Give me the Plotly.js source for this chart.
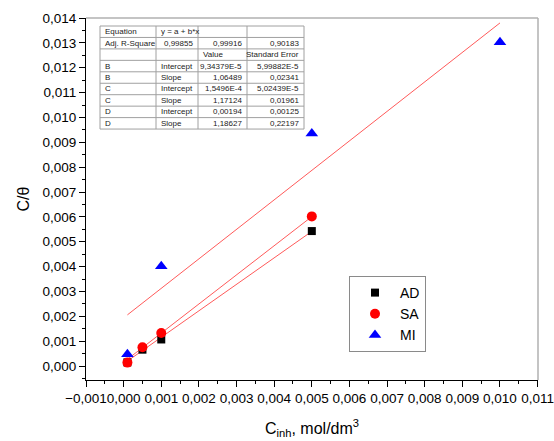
<!DOCTYPE html>
<html>
<head>
<meta charset="utf-8">
<script src="https://cdn.plot.ly/plotly-3.0.1.min.js"></script>
<style>html,body{margin:0;padding:0;background:#fff;}#chart{width:554px;height:441px;}</style>
</head>
<body>
<div id="chart"></div>
<script>
// Data
const xAD = [0.0001, 0.0005, 0.001, 0.005];
const yAD = [0.00015, 0.00066, 0.00107, 0.00543];
const xSA = [0.0001, 0.0005, 0.001, 0.005];
const ySA = [0.00014, 0.00076, 0.00133, 0.00602];
const xMI = [0.0001, 0.001, 0.005, 0.01];
const yMI = [0.00048, 0.00402, 0.00935, 0.01302];

// Linear fit table (as printed)
const fitNames = ['B', 'C', 'D'];
const fitIntercept = [9.34379e-5, 1.5496e-4, 0.00194];
const fitSlope = [1.06489, 1.17124, 1.18627];
const fitXRange = [[0.0001, 0.005], [0.0001, 0.005], [0.0001, 0.01]];

const tableCol1 = ['Equation', 'Adj. R-Square', '', 'B', 'B', 'C', 'C', 'D', 'D'];
const tableCol2 = ['y = a + b*x', '0,99855', '', 'Intercept', 'Slope', 'Intercept', 'Slope', 'Intercept', 'Slope'];
const tableCol3 = ['', '0,99916', 'Value', '9,34379E-5', '1,06489', '1,5496E-4', '1,17124', '0,00194', '1,18627'];
const tableCol4 = ['', '0,90183', 'Standard Error', '5,99882E-5', '0,02341', '5,02439E-5', '0,01961', '0,00125', '0,22197'];

const xTitle = 'C<sub>inh</sub>, mol/dm<sup>3</sup>';
const yTitle = 'C/θ';

// ---- layout geometry (pixels) ----
const W = 554, H = 441;
const M = {l: 86, r: 16, t: 18, b: 61};
const PW = W - M.l - M.r, PH = H - M.t - M.b;
const px2x = p => (p - M.l) / PW;
const py2y = p => (H - M.b - p) / PH;
const tblEdges = [100, 156, 198, 247, 304];
const tblTop = 26, tblRowH = 11.45;

const traces = [];
fitNames.forEach((n, i) => {
  const xs = fitXRange[i];
  traces.push({
    type: 'scatter', mode: 'lines', x: xs,
    y: xs.map(v => fitIntercept[i] + fitSlope[i] * v),
    line: {color: '#ff5a5a', width: 1}, showlegend: false, hoverinfo: 'skip'
  });
});
traces.push({type: 'scatter', mode: 'markers', name: 'AD', x: xAD, y: yAD, legendgroup: 'a', legendrank: 1,
  marker: {symbol: 'square', size: 8, color: '#000000'}});
traces.push({type: 'scatter', mode: 'markers', name: 'MI', x: xMI, y: yMI, legendgroup: 'c', legendrank: 3,
  marker: {symbol: 'triangle-up', size: 11, color: '#0000ff'}});
traces.push({type: 'scatter', mode: 'markers', name: 'SA', x: xSA, y: ySA, legendgroup: 'b', legendrank: 2,
  marker: {symbol: 'circle', size: 10, color: '#ff0000'}});

// ---- table as shapes + annotations ----
const cols = [tableCol1, tableCol2, tableCol3, tableCol4];
const nRows = tableCol1.length;
const tblBottom = tblTop + nRows * tblRowH;
const gridColor = '#a0a0a0';
const shapes = [
  {type: 'line', xref: 'paper', yref: 'paper', x0: 0, x1: 1, y0: 1, y1: 1, line: {color: '#b0b0b0', width: 1.5}},
  {type: 'line', xref: 'paper', yref: 'paper', x0: 1, x1: 1, y0: 0, y1: 1, line: {color: '#b0b0b0', width: 1.5}},
  {type: 'rect', xref: 'paper', yref: 'paper', x0: px2x(tblEdges[0]), x1: px2x(tblEdges[4]),
    y0: py2y(tblBottom), y1: py2y(tblTop), line: {color: gridColor, width: 1}, fillcolor: '#ffffff', layer: 'below'}
];
for (let r = 1; r < nRows; r++) {
  const yy = py2y(tblTop + r * tblRowH);
  shapes.push({type: 'line', xref: 'paper', yref: 'paper', x0: px2x(tblEdges[0]), x1: px2x(tblEdges[4]),
    y0: yy, y1: yy, line: {color: gridColor, width: 1}});
}
for (let c = 1; c < 4; c++) {
  const xx = px2x(tblEdges[c]);
  shapes.push({type: 'line', xref: 'paper', yref: 'paper', x0: xx, x1: xx,
    y0: py2y(tblBottom), y1: py2y(tblTop), line: {color: gridColor, width: 1}});
}
const annotations = [];
cols.forEach((col, c) => {
  col.forEach((txt, r) => {
    if (!txt) return;
    let align;
    if (c === 0) align = 'left';
    else if (c === 1) align = (r === 1) ? 'right' : 'left';
    else align = (r === 2) ? 'left' : 'right';
    if (c === 3 && r === 2) align = 'right';
    const xpx = align === 'left' ? tblEdges[c] + 3 : tblEdges[c + 1] - 3;
    annotations.push({
      xref: 'paper', yref: 'paper', x: px2x(xpx), y: py2y(tblTop + (r + 0.5) * tblRowH),
      xanchor: align, yanchor: 'middle', showarrow: false, text: txt,
      font: {family: 'Liberation Sans, Arial, sans-serif', size: 8, color: '#222'}
    });
  });
});

const tickFont = {family: 'Liberation Sans, Arial, sans-serif', size: 13.5, color: '#000'};
const layout = {
  width: W, height: H,
  margin: M,
  paper_bgcolor: '#fff', plot_bgcolor: '#fff',
  separators: ', ',
  showlegend: true,
  font: {family: 'Liberation Sans, Arial, sans-serif', color: '#000'},
  xaxis: {
    range: [-0.001, 0.01101], dtick: 0.001, tick0: 0, tickformat: '.3f', tickangle: 0,
    ticklabeloverflow: 'allow',
    showgrid: false, zeroline: false, showline: true, linecolor: '#000', linewidth: 1,
    ticks: 'outside', ticklen: 6, tickcolor: '#000', tickfont: tickFont,
    minor: {dtick: 0.0005, tick0: 0, ticks: 'outside', ticklen: 3, tickcolor: '#000', showgrid: false},
    title: {text: xTitle, font: {size: 16, color: '#000'}, standoff: 17}
  },
  yaxis: {
    range: [-0.00056, 0.014], dtick: 0.001, tick0: 0, tickformat: '.3f',
    showgrid: false, zeroline: false, showline: true, linecolor: '#000', linewidth: 1,
    ticks: 'outside', ticklen: 6, tickcolor: '#000', tickfont: tickFont,
    minor: {dtick: 0.0005, tick0: 0, ticks: 'outside', ticklen: 3, tickcolor: '#000', showgrid: false},
    title: {text: yTitle, font: {size: 16, color: '#000'}, standoff: 8}
  },
  legend: {
    x: px2x(349), y: py2y(276), xanchor: 'left', yanchor: 'top',
    bordercolor: '#8a8a8a', borderwidth: 1, bgcolor: '#fff',
    font: {size: 14, color: '#000'}, tracegroupgap: 3, traceorder: 'normal', itemwidth: 40
  },
  shapes: shapes,
  annotations: annotations
};

Plotly.newPlot('chart', traces, layout, {staticPlot: true, displayModeBar: false});
</script>
</body>
</html>
